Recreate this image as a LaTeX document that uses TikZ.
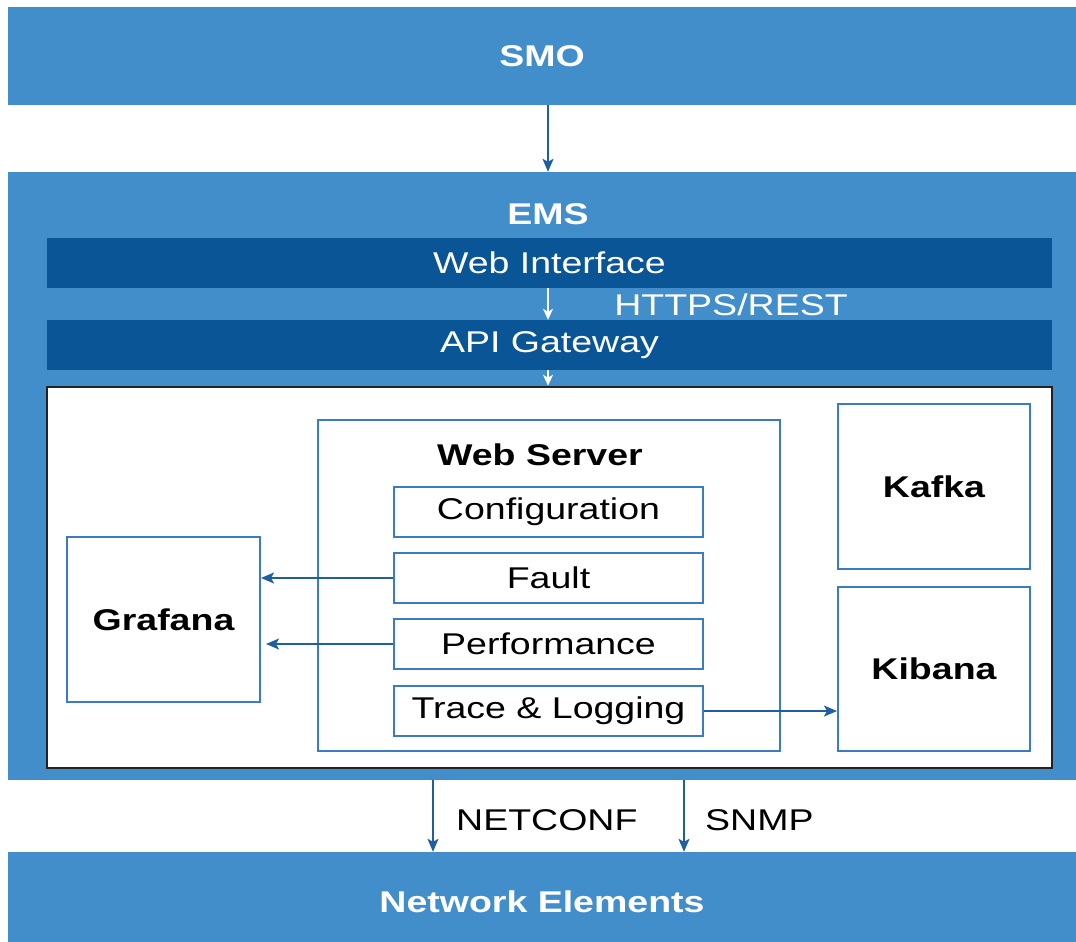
\documentclass[tikz,border=0pt]{standalone}
\usepackage{fontspec}
\setmainfont[FakeStretch=1.25]{Liberation Sans}
\usetikzlibrary{arrows.meta}
\definecolor{bandblue}{HTML}{428ECB}
\definecolor{barblue}{HTML}{0A5596}
\definecolor{boxblue}{HTML}{3B7BBF}
\definecolor{arrblue}{HTML}{1F5FA0}
\definecolor{frame}{HTML}{222222}
\tikzset{
  txt/.style={font=\fontsize{30}{36}\selectfont},
  band/.style={fill=bandblue, draw=none, text=white, txt, font=\fontsize{30}{36}\selectfont\bfseries, inner sep=0},
  bar/.style={fill=barblue, draw=none, text=white, txt, inner sep=0},
  sbox/.style={draw=boxblue, line width=2pt, fill=white, txt, inner sep=0},
  bbox/.style={draw=boxblue, line width=2pt, fill=white, font=\fontsize{30}{36}\selectfont\bfseries, inner sep=0},
  conn/.style={draw=arrblue, line width=1.8pt, -{Stealth[length=13pt,width=11pt,inset=3pt]}},
  wconn/.style={draw=white, line width=1.8pt, -{Stealth[length=11pt,width=10pt,inset=3pt]}},
  lbl/.style={txt, inner sep=0}
}
\begin{document}
\begin{tikzpicture}[x=1pt,y=-1pt]
\useasboundingbox (0,0) rectangle (1076,942);
\fill[white] (0,0) rectangle (1076,942);
\coordinate (ax) at (548,0);
% bands
\node[band, minimum width=1068pt, minimum height=98pt] (smo) at (542,56) {SMO};
\node[band, minimum width=1068pt, minimum height=608pt] (ems) at (542,476) {};
\node[lbl, text=white, font=\fontsize{30}{36}\selectfont\bfseries] (emslabel) at (548,214) {EMS};
\node[band, minimum width=1068pt, minimum height=100pt] (ne) at (542,902) {Network Elements};
% bars
\node[bar, minimum width=1005pt, minimum height=50pt] (webi) at (549.5,263) {Web Interface};
\node[bar, minimum width=1005pt, minimum height=50pt] (api) at (549.5,345) {API Gateway};
\node[lbl, text=white] (https) at (731,305) {HTTPS/REST};
% inner white area
\node[draw=frame, line width=2.5pt, fill=white, minimum width=1005pt, minimum height=381pt, inner sep=0] (inner) at (549.5,577.5) {};
% web server
\node[draw=boxblue, line width=2pt, fill=white, minimum width=462pt, minimum height=331pt, inner sep=0] (ws) at (549,585.5) {};
\node[lbl, font=\fontsize{30}{36}\selectfont\bfseries] (wslabel) at (540,455) {Web Server};
\node[sbox, minimum width=309pt, minimum height=50pt] (conf) at (548.5,512) {Configuration};
\node[sbox, minimum width=309pt, minimum height=50pt] (fault) at (548.5,578) {Fault};
\node[sbox, minimum width=309pt, minimum height=50pt] (perf) at (548.5,644) {Performance};
\node[sbox, minimum width=309pt, minimum height=50pt] (trace) at (548.5,711) {Trace \& Logging};
% side boxes
\node[bbox, minimum width=193pt, minimum height=165pt] (graf) at (163.5,619.5) {Grafana};
\node[bbox, minimum width=192pt, minimum height=165pt] (kafka) at (934,486.5) {Kafka};
\node[bbox, minimum width=192pt, minimum height=164pt] (kib) at (934,669) {Kibana};
% connectors
\draw[conn] (smo.south -| ax) -- (ems.north -| ax);
\draw[wconn] (webi.south -| ax) -- (api.north -| ax);
\draw[wconn] (api.south -| ax) -- (inner.north -| ax);
\draw[conn] (fault.west) -- (graf.east |- fault.west);
\draw[conn, shorten >=5pt] (perf.west) -- (graf.east |- perf.west);
\draw[conn] (trace.east) -- (kib.west |- trace.east);
\coordinate (nc) at (433,0);
\coordinate (sn) at (684,0);
\draw[conn] (ems.south -| nc) -- (ne.north -| nc);
\draw[conn] (ems.south -| sn) -- (ne.north -| sn);
\node[lbl, anchor=west] (netconf) at (456,820) {NETCONF};
\node[lbl, anchor=west] (snmp) at (705,820) {SNMP};
\end{tikzpicture}
\end{document}
